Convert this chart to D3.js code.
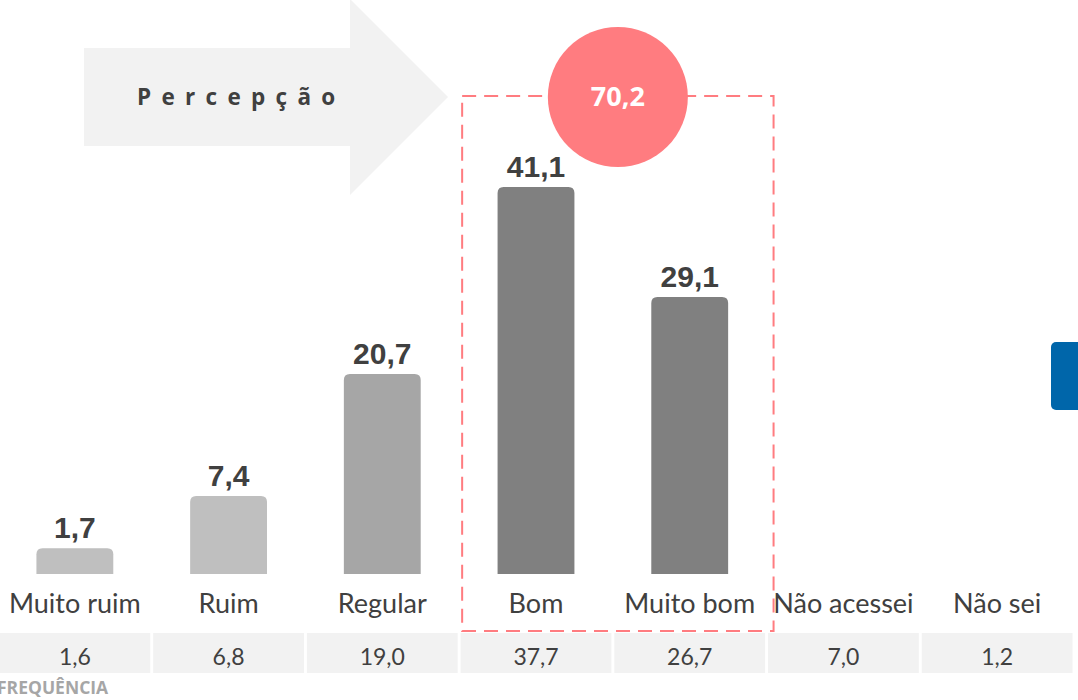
<!DOCTYPE html>
<html lang="pt">
<head>
<meta charset="UTF-8">
<title>Percepção</title>
<script src="https://d3js.org/d3.v7.min.js"></script>
<style>
  body { margin: 0; background: #fff; }
  svg { display: block; }
</style>
</head>
<body>
<div id="chart"></div>
<script>

// data
const categorias = ["Muito ruim", "Ruim", "Regular", "Bom", "Muito bom", "Não acessei", "Não sei"];
const percepcao = [1.7, 7.4, 20.7, 41.1, 29.1];
const frequencia = [1.6, 6.8, 19.0, 37.7, 26.7, 7.0, 1.2];
const destacados = ["Bom", "Muito bom"];

const width = 1078;
const height = 700;

const ptBR = d3.formatLocale({ decimal: ",", thousands: ".", grouping: [3], currency: ["R$", ""] });
const fmt = ptBR.format(".1f");

const svg = d3.select("#chart")
  .append("svg")
    .attr("width", width)
    .attr("height", height);

// scales
const x = d3.scaleBand()
  .domain(categorias)
  .range([-2, 1074])
  .paddingInner(0.5)
  .paddingOuter(0.25);

const xCol = d3.scaleBand()
  .domain(categorias)
  .range([-2, 1074]);

const baseline = 574;
const y = d3.scaleLinear()
  .domain([-1.1, 41.1])
  .range([baseline, 187]);

const cor = d3.scaleOrdinal()
  .domain(categorias.slice(0, 5))
  .range(["#BFBFBF", "#BFBFBF", "#A6A6A6", "#808080", "#808080"]);

// arrow "Percepção"
svg.append("path")
  .attr("d", "M84,48 L350,48 L350,-1 L448,97 L350,195 L350,146 L84,146 Z")
  .attr("fill", "#F2F2F2");

svg.append("text")
  .attr("x", 137)
  .attr("y", 105)
  .attr("font-family", "'Open Sans', sans-serif")
  .attr("font-weight", "bold")
  .attr("font-size", 22.5)
  .attr("letter-spacing", 10.3)
  .attr("fill", "#404040")
  .text("Percepção");

// bars with rounded top corners
const r = 6;
const barData = percepcao.map((v, i) => ({ cat: categorias[i], value: v }));

svg.selectAll(".bar")
  .data(barData)
  .enter()
  .append("path")
  .attr("class", "bar")
  .attr("fill", d => cor(d.cat))
  .attr("d", d => {
    const x0 = x(d.cat), x1 = x0 + x.bandwidth(), t = y(d.value);
    return `M${x0},${baseline} L${x0},${t + r} Q${x0},${t} ${x0 + r},${t} L${x1 - r},${t} Q${x1},${t} ${x1},${t + r} L${x1},${baseline} Z`;
  });

svg.selectAll(".bar-label")
  .data(barData)
  .enter()
  .append("text")
  .attr("class", "bar-label")
  .attr("x", d => x(d.cat) + x.bandwidth() / 2)
  .attr("y", d => y(d.value) - 10)
  .attr("text-anchor", "middle")
  .attr("font-family", "'Liberation Sans', Arial, sans-serif")
  .attr("font-weight", "bold")
  .attr("font-size", 30)
  .attr("fill", "#404040")
  .text(d => fmt(d.value));

// category labels
svg.selectAll(".cat-label")
  .data(categorias)
  .enter()
  .append("text")
  .attr("class", "cat-label")
  .attr("x", d => xCol(d) + xCol.bandwidth() / 2)
  .attr("y", 613)
  .attr("text-anchor", "middle")
  .attr("font-family", "Lato, 'Open Sans', sans-serif")
  .attr("font-size", 27)
  .attr("fill", "#404040")
  .text(d => d);

// frequency table row
svg.selectAll(".cell")
  .data(categorias)
  .enter()
  .append("rect")
  .attr("class", "cell")
  .attr("x", d => xCol(d) + 1.5)
  .attr("y", 633)
  .attr("width", xCol.bandwidth() - 3)
  .attr("height", 40)
  .attr("fill", "#F2F2F2");

svg.selectAll(".cell-label")
  .data(frequencia)
  .enter()
  .append("text")
  .attr("class", "cell-label")
  .attr("x", (d, i) => xCol(categorias[i]) + xCol.bandwidth() / 2)
  .attr("y", 665)
  .attr("text-anchor", "middle")
  .attr("font-family", "Lato, 'Open Sans', sans-serif")
  .attr("font-size", 23)
  .attr("fill", "#404040")
  .text(d => fmt(d));

svg.append("text")
  .attr("x", -3)
  .attr("y", 694)
  .attr("font-family", "'Open Sans', sans-serif")
  .attr("font-weight", "bold")
  .attr("font-size", 17.5)
  .attr("fill", "#A6A6A6")
  .text("FREQUÊNCIA");

// dashed highlight box
const bx0 = xCol(destacados[0]) + 3;
const bx1 = xCol(destacados[1]) + xCol.bandwidth() + 7;
svg.append("rect")
  .attr("x", bx0)
  .attr("y", 96)
  .attr("width", bx1 - bx0)
  .attr("height", 535)
  .attr("fill", "none")
  .attr("stroke", "#FF7C80")
  .attr("stroke-width", 2)
  .attr("stroke-dasharray", "14,8");

// total circle
const total = d3.sum(barData.filter(d => destacados.includes(d.cat)), d => d.value);
const cx = (bx0 + bx1) / 2;
svg.append("circle")
  .attr("cx", cx)
  .attr("cy", 97)
  .attr("r", 70)
  .attr("fill", "#FF7C80");

svg.append("text")
  .attr("x", cx)
  .attr("y", 97)
  .attr("dy", "0.35em")
  .attr("text-anchor", "middle")
  .attr("font-family", "'Open Sans', sans-serif")
  .attr("font-weight", "bold")
  .attr("font-size", 27)
  .attr("fill", "#fff")
  .text(fmt(total));

// blue tab at the right edge
svg.append("rect")
  .attr("x", 1051)
  .attr("y", 342)
  .attr("width", 40)
  .attr("height", 68)
  .attr("rx", 5)
  .attr("fill", "#0066AA");

</script>
</body>
</html>
